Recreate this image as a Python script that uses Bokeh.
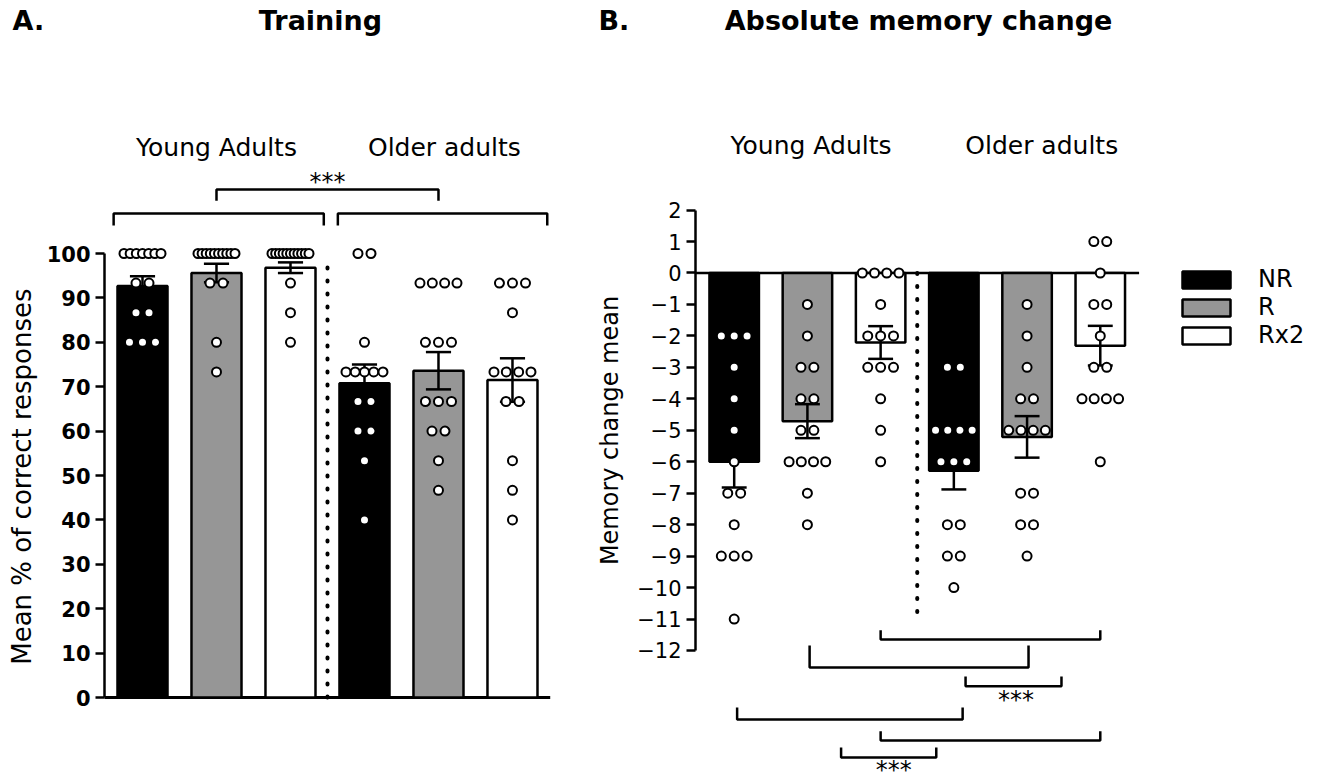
import math
from bokeh.plotting import figure
from bokeh.layouts import column, row
from bokeh.models import Range1d, FixedTicker, Legend, LegendItem
from bokeh.core.properties import value
from bokeh.embed import file_html
from bokeh.resources import INLINE

FONT = "DejaVu Sans"

# ---------------- data ----------------
groups = ["Young Adults", "Older adults"]
conditions = ["NR", "R", "Rx2"]
fills = ["black", "#969696", "white"]
bar_pos = [0, 1, 2, 3, 4, 5]          # young NR, R, Rx2, older NR, R, Rx2
group_pos_a = [1.0, 4.08]
group_pos_b = [1.05, 4.2]

# Panel A: training, % correct
train_mean = [92.7, 95.6, 96.8, 70.8, 73.6, 71.5]
train_sem = [2.2, 2.1, 1.2, 4.2, 4.2, 4.9]
train_young_nr = [100, 100, 100, 100, 100, 100, 100, 93.33, 93.33, 86.67, 86.67, 80, 80, 80]
train_young_r = [100, 100, 100, 100, 100, 100, 100, 100, 100, 100, 93.33, 93.33, 80, 73.33]
train_young_rx2 = [100, 100, 100, 100, 100, 100, 100, 100, 100, 100, 100, 93.33, 86.67, 80]
train_older_nr = [100, 100, 80, 73.33, 73.33, 73.33, 73.33, 73.33, 66.67, 66.67, 60, 60, 53.33, 40]
train_older_r = [93.33, 93.33, 93.33, 93.33, 80, 80, 80, 66.67, 66.67, 66.67, 60, 60, 53.33, 46.67]
train_older_rx2 = [93.33, 93.33, 93.33, 86.67, 73.33, 73.33, 73.33, 73.33, 66.67, 66.67, 53.33, 46.67, 40]
train_pts = [train_young_nr, train_young_r, train_young_rx2,
             train_older_nr, train_older_r, train_older_rx2]
train_ticks = [0, 10, 20, 30, 40, 50, 60, 70, 80, 90, 100]

# Panel B: absolute memory change
mem_mean = [-6.0, -4.71, -2.21, -6.29, -5.21, -2.31]
mem_sem = [0.82, 0.54, 0.52, 0.59, 0.66, 0.63]
mem_young_nr = [-2, -2, -2, -3, -4, -5, -6, -7, -7, -8, -9, -9, -9, -11]
mem_young_r = [-1, -2, -3, -3, -4, -4, -5, -5, -6, -6, -6, -6, -7, -8]
mem_young_rx2 = [0, 0, 0, 0, -1, -2, -2, -2, -3, -3, -3, -4, -5, -6]
mem_older_nr = [-3, -3, -5, -5, -5, -5, -6, -6, -6, -8, -8, -9, -9, -10]
mem_older_r = [-1, -2, -3, -4, -4, -5, -5, -5, -5, -7, -7, -8, -8, -9]
mem_older_rx2 = [1, 1, 0, -1, -1, -2, -3, -3, -4, -4, -4, -4, -6]
mem_pts = [mem_young_nr, mem_young_r, mem_young_rx2,
           mem_older_nr, mem_older_r, mem_older_rx2]
mem_ticks = [-12, -11, -10, -9, -8, -7, -6, -5, -4, -3, -2, -1, 0, 1, 2]

# significance brackets: (x_left, x_right, y_line, y_tip)
a_brackets = [(1.0, 4.0, 114.4, 111.9),
              (-0.39, 2.45, 109.0, 106.3),
              (2.64, 5.47, 109.0, 106.3)]
a_stars = [(2.5, 119.26)]
b_brackets = [(2.0, 5.0, -11.65, -11.36),
              (1.03, 4.02, -12.54, -11.84),
              (3.16, 4.47, -13.14, -12.83),
              (0.04, 3.12, -14.19, -13.81),
              (2.0, 5.0, -14.86, -14.57),
              (1.46, 2.76, -15.40, -15.08)]
b_stars = [(3.85, -13.13), (2.18, -15.34)]

ylabel_a = "Mean % of  correct responses"
ylabel_b = "Memory change mean"

BAR_W = 0.676
CAP = 0.17


def spread(vals, step=0.176, maxw=0.5):
    counts = {}
    for v in vals:
        counts[v] = counts.get(v, 0) + 1
    seen = {}
    offs = []
    for v in vals:
        k = counts[v]
        i = seen.get(v, 0)
        seen[v] = i + 1
        st = step if k == 1 or (k - 1) * step <= maxw else maxw / (k - 1)
        offs.append((i - (k - 1) / 2) * st)
    return offs


def style_common(p):
    p.xgrid.visible = False
    p.ygrid.visible = False
    p.outline_line_color = None
    p.background_fill_color = "white"
    p.border_fill_color = "white"


def style_yaxis(ax, size, bold):
    ax.axis_line_width = 2.5
    ax.major_tick_line_width = 2.5
    ax.major_tick_out = 9
    ax.major_tick_in = 0
    ax.minor_tick_out = 0
    ax.minor_tick_in = 0
    ax.major_label_text_font = FONT
    ax.major_label_text_font_size = size
    ax.major_label_text_font_style = "bold" if bold else "normal"
    ax.major_label_text_color = "black"
    ax.major_label_standoff = 5


def draw_panel(p, means, sems, pts, hanging):
    rends = []
    for c in range(3):
        xs = [bar_pos[c], bar_pos[c + 3]]
        ms = [means[c], means[c + 3]]
        if hanging:
            r = p.vbar(x=xs, top=0, bottom=ms, width=BAR_W, fill_color=fills[c],
                       line_color="black", line_width=2.5)
        else:
            r = p.vbar(x=xs, top=ms, bottom=0, width=BAR_W, fill_color=fills[c],
                       line_color="black", line_width=2.5)
        rends.append(r)
    lo = [m - s for m, s in zip(means, sems)]
    hi = [m + s for m, s in zip(means, sems)]
    p.segment(x0=bar_pos, y0=lo, x1=bar_pos, y1=hi, line_color="black", line_width=2.5)
    p.segment(x0=[x - CAP for x in bar_pos], y0=hi, x1=[x + CAP for x in bar_pos], y1=hi,
              line_color="black", line_width=2.5)
    p.segment(x0=[x - CAP for x in bar_pos], y0=lo, x1=[x + CAP for x in bar_pos], y1=lo,
              line_color="black", line_width=2.5)
    px, py = [], []
    for i, vals in enumerate(pts):
        offs = spread(vals)
        px += [bar_pos[i] + o for o in offs]
        py += vals
    p.scatter(x=px, y=py, marker="circle", size=9, fill_color="white",
              line_color="black", line_width=2)
    return rends


def draw_brackets(p, brackets, stars):
    xs, ys = [], []
    for x0, x1, yl, yt in brackets:
        xs.append([x0, x0, x1, x1])
        ys.append([yt, yl, yl, yt])
    p.multi_line(xs=xs, ys=ys, line_color="black", line_width=2.5)
    p.text(x=[s[0] for s in stars], y=[s[1] for s in stars], text=["***"] * len(stars),
           text_font=value(FONT), text_font_size="24px", text_align="center",
           text_baseline="top", text_color="black")


# ---------------- titles strip ----------------
top = figure(width=1325, height=48, x_range=Range1d(0, 1325), y_range=Range1d(48, 0),
             x_axis_location=None, y_axis_location=None, toolbar_location=None,
             min_border=0, output_backend="svg")
style_common(top)
top.text(x=[12, 598], y=[20, 20], text=["A.", "B."], text_font=value(FONT),
         text_font_size="27px", text_font_style="bold", text_align="left",
         text_baseline="middle", text_color="black")
top.text(x=[320, 918], y=[20, 20], text=["Training", "Absolute memory change"],
         text_font=value(FONT), text_font_size="27px", text_font_style="bold",
         text_align="center", text_baseline="middle", text_color="black")

# ---------------- y label strip for panel A ----------------
lab = figure(width=40, height=736, x_range=Range1d(0, 40), y_range=Range1d(0, 736),
             x_axis_location=None, y_axis_location=None, toolbar_location=None,
             min_border=0, output_backend="svg")
style_common(lab)
lab.text(x=[21], y=[312], text=[ylabel_a], angle=math.pi / 2, text_font=value(FONT),
         text_font_size="26px", text_align="center", text_baseline="middle",
         text_color="black")

# ---------------- panel A ----------------
pa = figure(width=594, height=736, x_range=Range1d(-0.5135, 6.649),
            y_range=Range1d(-19.59, 146.17), x_axis_location=None,
            toolbar_location=None, min_border_left=64, min_border_right=0,
            min_border_top=0, min_border_bottom=0, output_backend="svg")
style_common(pa)
pa.yaxis.bounds = (0, 100)
pa.yaxis.ticker = FixedTicker(ticks=train_ticks)
style_yaxis(pa.yaxis[0], "21px", True)

pa.line(x=[-0.65, 5.51], y=[0, 0], line_color="black", line_width=3)
pa.line(x=[2.5, 2.5], y=[0, 98], line_color="black", line_width=4,
        line_dash="1 12", line_cap="round")
draw_panel(pa, train_mean, train_sem, train_pts, hanging=False)
draw_brackets(pa, a_brackets, a_stars)
pa.text(x=group_pos_a, y=[123.9, 123.9], text=groups, text_font=value(FONT),
        text_font_size="25px", text_align="center", text_baseline="middle",
        text_color="black")
# y-axis title of panel B (sits left of panel B's axis)
pa.text(x=[6.324], y=[60.14], text=[ylabel_b], angle=math.pi / 2, text_font=value(FONT),
        text_font_size="24px", text_align="center", text_baseline="middle",
        text_color="black")

# ---------------- panel B ----------------
pb = figure(width=691, height=736, x_range=Range1d(-0.5285, 8.076),
            y_range=Range1d(-16.26, 7.136), x_axis_location=None,
            toolbar_location=None, min_border_left=56, min_border_right=0,
            min_border_top=0, min_border_bottom=0, output_backend="svg")
style_common(pb)
pb.yaxis.bounds = (-12, 2)
pb.yaxis.ticker = FixedTicker(ticks=mem_ticks)
style_yaxis(pb.yaxis[0], "21px", False)

pb.line(x=[2.5, 2.5], y=[0, -11.1], line_color="black", line_width=4,
        line_dash="1 12", line_cap="round")
pb.line(x=[-0.53, 5.53], y=[0, 0], line_color="black", line_width=2.5)
rb = draw_panel(pb, mem_mean, mem_sem, mem_pts, hanging=True)
draw_brackets(pb, b_brackets, b_stars)
pb.text(x=group_pos_b, y=[4.05, 4.05], text=groups, text_font=value(FONT),
        text_font_size="25px", text_align="center", text_baseline="middle",
        text_color="black")

legend = Legend(items=[LegendItem(label=conditions[i], renderers=[rb[i]]) for i in range(3)],
                location=(481, 435), orientation="vertical", glyph_width=60,
                glyph_height=21, label_height=28, spacing=0, padding=0, margin=0,
                label_standoff=22, label_text_font=FONT, label_text_font_size="24px",
                label_text_color="black", border_line_color=None,
                background_fill_alpha=0)
pb.add_layout(legend)

layout = column(top, row(lab, pa, pb))
open("out.html", "w").write(file_html(layout, INLINE))
